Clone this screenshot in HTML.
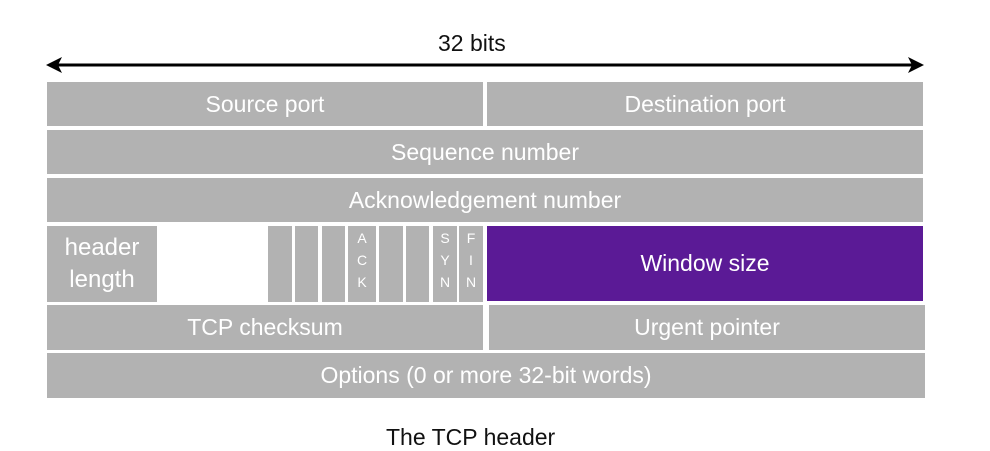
<!DOCTYPE html>
<html><head><style>
body{margin:0;width:990px;height:438px;background:#fff;position:relative;overflow:hidden;font-family:"Liberation Sans",sans-serif;}
.b{position:absolute;background:#b2b2b2;color:#fff;font-size:23px;display:flex;align-items:center;justify-content:center;text-align:center;}
.f{position:absolute;background:#b2b2b2;color:#fff;font-size:14px;top:226px;height:76px;display:flex;flex-direction:column;align-items:center;justify-content:flex-start;line-height:22px;padding-top:1px;box-sizing:border-box;}
.t{position:absolute;color:#111;font-size:23px;}
</style></head><body>
<div class="t" style="left:438px;top:30px;">32 bits</div>
<svg style="position:absolute;left:0;top:0" width="990" height="100">
<line x1="55" y1="65" x2="915" y2="65" stroke="#000" stroke-width="3"/>
<polygon points="46,65 62,57 58,65 62,73" fill="#000"/>
<polygon points="924,65 908,57 912,65 908,73" fill="#000"/>
</svg>
<div class="b" style="left:47px;top:82px;width:436px;height:44px;">Source port</div>
<div class="b" style="left:487px;top:82px;width:436px;height:44px;">Destination port</div>
<div class="b" style="left:47px;top:130px;width:876px;height:44px;">Sequence number</div>
<div class="b" style="left:47px;top:178px;width:876px;height:44px;">Acknowledgement number</div>
<div class="b" style="left:47px;top:226px;width:110px;height:76px;line-height:32px;font-size:24px;">header<br>length</div>
<div class="f" style="left:268px;width:24px;"></div>
<div class="f" style="left:295px;width:23px;"></div>
<div class="f" style="left:322px;width:23px;"></div>
<div class="f" style="left:348px;width:28px;"><span>A</span><span>C</span><span>K</span></div>
<div class="f" style="left:379px;width:24px;"></div>
<div class="f" style="left:406px;width:23px;"></div>
<div class="f" style="left:433px;width:24px;"><span>S</span><span>Y</span><span>N</span></div>
<div class="f" style="left:459px;width:24px;"><span>F</span><span>I</span><span>N</span></div>
<div class="b" style="left:487px;top:226px;width:436px;height:75px;background:#5b1a96;">Window size</div>
<div class="b" style="left:47px;top:305px;width:436px;height:45px;">TCP checksum</div>
<div class="b" style="left:489px;top:305px;width:436px;height:45px;">Urgent pointer</div>
<div class="b" style="left:47px;top:353px;width:878px;height:45px;">Options (0 or more 32-bit words)</div>
<div class="t" style="left:386px;top:424px;">The TCP header</div>
</body></html>
